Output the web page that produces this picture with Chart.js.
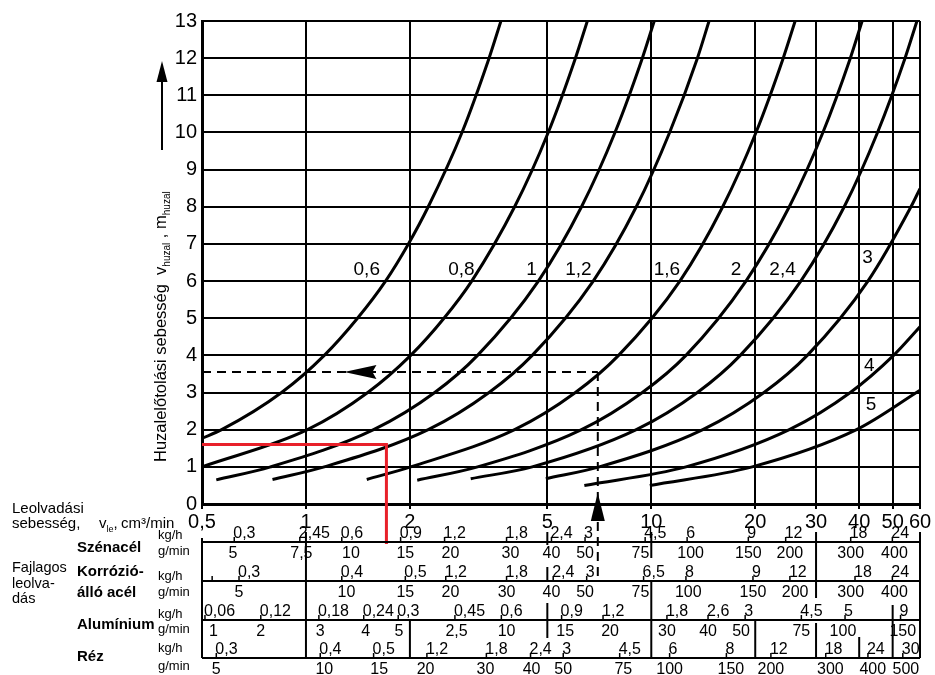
<!DOCTYPE html>
<html>
<head>
<meta charset="utf-8">
<script src="https://cdn.jsdelivr.net/npm/chart.js@4/dist/chart.umd.min.js"></script>
<style>
  html, body { margin: 0; padding: 0; background: #fff; }
  canvas { display: block; }
</style>
</head>
<body>
<canvas id="chart" width="935" height="675"></canvas>
<script>
// melt rate (cm3/min) axis ticks and wire speed (m/min) ticks
const xTicks = [0.5, 1, 2, 5, 10, 20, 30, 40, 50, 60];
const yMax = 13;

// wire diameters (mm) and their curves as [melt rate cm3/min, wire speed m/min]
const diameters = ['0,6', '0,8', '1', '1,2', '1,6', '2', '2,4', '3', '4', '5'];
const w06 = [[0.5, 1.77], [0.57, 2], [0.85, 3], [1.13, 4], [1.41, 5], [1.7, 6], [1.98, 7], [2.26, 8], [2.83, 10], [3.39, 12], [3.67, 13]];
const w08 = [[0.5, 1.0], [1.01, 2], [1.51, 3], [2.01, 4], [2.51, 5], [3.02, 6], [4.02, 8], [5.03, 10], [6.03, 12], [6.53, 13]];
const w10 = [[0.55, 0.65], [0.79, 1], [1.57, 2], [2.36, 3], [3.14, 4], [4.71, 6], [6.28, 8], [7.85, 10], [9.42, 12], [10.2, 13]];
const w12 = [[0.8, 0.66], [1.13, 1], [2.26, 2], [3.39, 3], [4.52, 4], [6.79, 6], [9.05, 8], [11.3, 10], [13.6, 12], [14.7, 13]];
const w16 = [[1.5, 0.66], [2.01, 1], [4.02, 2], [6.03, 3], [8.04, 4], [12.1, 6], [16.1, 8], [20.1, 10], [24.1, 12], [26.1, 13]];
const w20 = [[2.1, 0.64], [3.14, 1], [6.28, 2], [9.42, 3], [12.6, 4], [18.8, 6], [25.1, 8], [31.4, 10], [37.7, 12], [40.8, 13]];
const w24 = [[3.0, 0.68], [4.52, 1], [9.05, 2], [13.6, 3], [18.1, 4], [27.1, 6], [36.2, 8], [45.2, 10], [54.3, 12], [58.8, 13]];
const w30 = [[4.95, 0.68], [7.07, 1], [14.1, 2], [21.2, 3], [28.3, 4], [42.4, 6], [56.5, 8], [60, 8.49]];
const w40 = [[6.4, 0.5], [12.6, 1], [25.1, 2], [37.7, 3], [50.3, 4], [60, 4.77]];
const w50 = [[9.9, 0.5], [19.6, 1], [39.3, 2], [60, 3.06]];
const curves = [w06, w08, w10, w12, w16, w20, w24, w30, w40, w50];

// where each diameter is written on the chart
const labelAt = [[1.5, 6.3], [2.82, 6.3], [4.5, 6.3], [6.15, 6.3], [11.1, 6.3], [17.6, 6.3], [24.0, 6.3], [42.3, 6.62], [42.8, 3.71], [43.3, 2.66]];

// worked example: wire speed read back from a melt rate
const exampleRate = 7.0;
const exampleSpeed = 3.55;
// red example line
const redSpeed = 1.6;
const redRate = 1.71;

// specific melting rate scales, label text and position in cm3/min
const szenKgh = ['0,3', '2,45', '0,6', '0,9', '1,2', '1,8', '2,4', '3', '4,5', '6', '9', '12', '18', '24'];
const szenKghAt = [0.62, 0.96, 1.27, 1.88, 2.52, 3.81, 5.14, 6.43, 9.6, 12.7, 19.1, 24.5, 37.8, 49.9];
const szenGmin = ['5', '7,5', '10', '15', '20', '30', '40', '50', '75', '100', '150', '200', '300', '400'];
const szenGminAt = [0.615, 0.97, 1.35, 1.94, 2.62, 3.91, 5.14, 6.43, 9.3, 13.0, 19.1, 25.2, 37.8, 50.6];
const korrKgh = ['', '0,3', '0,4', '0,5', '1,2', '1,8', '2,4', '3', '6,5', '8', '9', '12', '18', '24'];
const korrKghAt = [0.535, 0.64, 1.27, 1.94, 2.54, 3.81, 5.2, 6.5, 9.5, 12.6, 19.7, 25.2, 38.9, 49.9];
const korrGmin = ['5', '10', '15', '20', '30', '40', '50', '75', '100', '150', '200', '300', '400'];
const korrGminAt = [0.64, 1.31, 1.94, 2.62, 3.81, 5.14, 6.43, 9.3, 12.8, 19.7, 26.1, 37.8, 50.6];
const aluKgh = ['0,06', '0,12', '0,18', '0,24', '0,3', '0,45', '0,6', '0,9', '1,2', '1,8', '2,6', '3', '4,5', '5', '9'];
const aluKghAt = [0.51, 0.74, 1.09, 1.47, 1.85, 2.70, 3.68, 5.5, 7.25, 11.1, 14.6, 18.7, 27.2, 36.4, 52.7];
const aluGmin = ['1', '2', '3', '4', '5', '2,5', '10', '15', '20', '30', '40', '50', '75', '100', '150'];
const aluGminAt = [0.54, 0.74, 1.1, 1.49, 1.86, 2.73, 3.81, 5.63, 7.6, 11.1, 14.6, 18.2, 27.2, 35.9, 53.5];
const rezKgh = ['0,3', '0,4', '0,5', '1,2', '1,8', '2,4', '3', '4,5', '6', '8', '12', '18', '24', '30'];
const rezKghAt = [0.55, 1.1, 1.57, 2.24, 3.33, 4.47, 5.56, 8.1, 11.3, 16.5, 22.2, 32, 42.4, 53.5];
const rezGmin = ['5', '10', '15', '20', '30', '40', '50', '75', '100', '150', '200', '300', '400', '500'];
const rezGminAt = [0.55, 1.13, 1.63, 2.22, 3.31, 4.5, 5.56, 8.3, 11.3, 17.0, 22.2, 33, 43.8, 54.6];

const FONT = '"Liberation Sans", Arial, Helvetica, sans-serif';
Chart.defaults.font.family = FONT;
Chart.defaults.color = '#000';

// table layout: y of the line under each kg/h row
const materials = [
  { name: ['Szénacél'], nameY: [548], line: 542, unitY: [535, 551], kgh: szenKgh, kghAt: szenKghAt, gmin: szenGmin, gminAt: szenGminAt },
  { name: ['Korrózió-', 'álló acél'], nameY: [572, 593], line: 581, unitY: [576, 592], kgh: korrKgh, kghAt: korrKghAt, gmin: korrGmin, gminAt: korrGminAt },
  { name: ['Alumínium'], nameY: [625], line: 620, unitY: [614, 629], kgh: aluKgh, kghAt: aluKghAt, gmin: aluGmin, gminAt: aluGminAt },
  { name: ['Réz'], nameY: [657], line: 658, unitY: [648, 666], kgh: rezKgh, kghAt: rezKghAt, gmin: rezGmin, gminAt: rezGminAt }
];
// vertical rules inside the table: [cm3/min, top px, bottom px]
const tableRules = [[0.5, 538, 658], [1, 532, 658], [2, 620, 658], [5, 532, 545], [5, 567, 582], [5, 603, 638],
  [10, 532, 558], [10, 582, 658], [20, 620, 658], [30, 532, 598], [30, 623, 658], [40, 637, 658], [50, 605, 658], [60, 532, 658]];

function font(size, bold) {
  return (bold ? 'bold ' : '') + size + 'px ' + FONT;
}

// text pieces with subscripts, drawn left to right from (x, y) on the baseline
function richText(ctx, parts, x, y, size) {
  ctx.textAlign = 'left';
  ctx.textBaseline = 'alphabetic';
  for (const [t, sub] of parts) {
    ctx.font = font(sub ? Math.round(size * 0.62) : size);
    ctx.fillText(t, x, sub ? y + 4 : y);
    x += ctx.measureText(t).width;
  }
}

const drawings = {
  id: 'drawings',
  afterDatasetsDraw(chart) {
    const { ctx, scales: { x, y } } = chart;
    ctx.save();

    // diameter labels
    ctx.font = font(19);
    ctx.textAlign = 'center';
    ctx.textBaseline = 'middle';
    diameters.forEach((d, i) => {
      ctx.fillText(d, x.getPixelForValue(labelAt[i][0]), y.getPixelForValue(labelAt[i][1]));
    });

    // dashed example lines
    const ex = x.getPixelForValue(exampleRate);
    const ey = y.getPixelForValue(exampleSpeed);
    ctx.strokeStyle = '#000';
    ctx.lineWidth = 2;
    ctx.setLineDash([9, 6]);
    ctx.beginPath();
    ctx.moveTo(x.getPixelForValue(0.5), ey);
    ctx.lineTo(ex, ey);
    ctx.moveTo(ex, ey);
    ctx.lineTo(ex, 580);
    ctx.stroke();
    ctx.setLineDash([]);

    // arrow heads
    ctx.fillStyle = '#000';
    const ax = x.getPixelForValue(1.29), bx = x.getPixelForValue(1.6);
    ctx.beginPath();
    ctx.moveTo(ax, ey);
    ctx.lineTo(bx, ey - 7);
    ctx.lineTo(bx - 4, ey);
    ctx.lineTo(bx, ey + 7);
    ctx.closePath();
    ctx.fill();
    ctx.beginPath();
    ctx.moveTo(ex, y.getPixelForValue(0.3));
    ctx.lineTo(ex - 7, 521);
    ctx.lineTo(ex + 7, 521);
    ctx.closePath();
    ctx.fill();

    // red example
    const rx = x.getPixelForValue(redRate), ry = y.getPixelForValue(redSpeed);
    ctx.strokeStyle = '#e8202a';
    ctx.lineWidth = 3;
    ctx.beginPath();
    ctx.moveTo(x.getPixelForValue(0.5), ry);
    ctx.lineTo(rx, ry);
    ctx.lineTo(rx, 544);
    ctx.stroke();
    ctx.restore();
  },
  afterDraw(chart) {
    const { ctx, scales: { x } } = chart;
    ctx.save();
    ctx.fillStyle = '#000';
    ctx.strokeStyle = '#000';

    // y axis title with the arrow above it
    ctx.save();
    ctx.translate(166, 462);
    ctx.rotate(-Math.PI / 2);
    richText(ctx, [['Huzalelőtolási sebesség  v', false], ['huzal', true], [' , m', false], ['huzal', true]], 0, 0, 16.5);
    ctx.restore();
    ctx.lineWidth = 2;
    ctx.beginPath();
    ctx.moveTo(162, 150);
    ctx.lineTo(162, 76);
    ctx.stroke();
    ctx.beginPath();
    ctx.moveTo(162, 61);
    ctx.lineTo(156.5, 82);
    ctx.lineTo(167.5, 82);
    ctx.closePath();
    ctx.fill();

    // x axis caption
    ctx.font = font(15);
    ctx.textAlign = 'left';
    ctx.textBaseline = 'alphabetic';
    ctx.fillText('Leolvadási', 12, 513);
    ctx.fillText('sebesség,', 12, 528);
    richText(ctx, [['v', false], ['le', true], [',', false]], 99, 528, 15);
    ctx.font = font(15);
    ctx.fillText('cm³/min', 121, 528);

    // table captions
    ctx.font = font(14.5);
    ctx.fillText('Fajlagos', 12, 572);
    ctx.fillText('leolva-', 12, 588);
    ctx.fillText('dás', 12, 603);

    const left = x.getPixelForValue(0.5), right = x.getPixelForValue(60);
    ctx.lineWidth = 2;
    for (const m of materials) {
      ctx.font = font(15, true);
      ctx.textAlign = 'left';
      ctx.textBaseline = 'middle';
      m.name.forEach((n, i) => ctx.fillText(n, 77, m.nameY[i]));
      ctx.font = font(13);
      ctx.fillText('kg/h', 158, m.unitY[0]);
      ctx.fillText('g/min', 158, m.unitY[1]);

      ctx.beginPath();
      ctx.moveTo(left, m.line);
      ctx.lineTo(right, m.line);
      ctx.stroke();

      // kg/h: tick on the rule, number written from the tick
      ctx.font = font(16);
      ctx.textBaseline = 'alphabetic';
      ctx.lineWidth = 1.5;
      m.kgh.forEach((t, i) => {
        const px = x.getPixelForValue(m.kghAt[i]);
        ctx.beginPath();
        ctx.moveTo(px, m.line - 5);
        ctx.lineTo(px, m.line);
        ctx.stroke();
        ctx.fillText(t, px - 1, m.line - 4);
      });
      ctx.lineWidth = 2;

      // g/min: number centred on its value
      ctx.textAlign = 'center';
      ctx.textBaseline = 'middle';
      m.gmin.forEach((t, i) => {
        ctx.fillText(t, x.getPixelForValue(m.gminAt[i]), m.line + 12);
      });
    }

    for (const [v, top, bottom] of tableRules) {
      const px = x.getPixelForValue(v);
      ctx.beginPath();
      ctx.moveTo(px, top);
      ctx.lineTo(px, bottom);
      ctx.stroke();
    }
    ctx.restore();
  }
};

new Chart(document.getElementById('chart'), {
  type: 'scatter',
  data: {
    datasets: curves.map((pts, i) => ({
      label: diameters[i],
      data: pts.map(p => ({ x: p[0], y: p[1] })),
      showLine: true,
      borderColor: '#000',
      borderWidth: 3,
      pointRadius: 0,
      cubicInterpolationMode: 'monotone'
    }))
  },
  options: {
    responsive: false,
    animation: false,
    devicePixelRatio: 1,
    layout: { padding: { left: 0, right: 15, top: 21, bottom: 139 } },
    plugins: { legend: { display: false }, tooltip: { enabled: false } },
    scales: {
      x: {
        type: 'logarithmic',
        min: 0.5,
        max: 60,
        afterBuildTicks: s => { s.ticks = xTicks.map(v => ({ value: v })); },
        afterFit: s => { s.height = 32; },
        ticks: {
          autoSkip: false,
          maxRotation: 0,
          padding: 1,
          font: { size: 20 },
          callback: v => String(v).replace('.', ',')
        },
        grid: { color: '#000', lineWidth: 2, tickLength: 5 },
        border: { color: '#000', width: 3 }
      },
      y: {
        min: 0,
        max: yMax,
        afterFit: s => { s.width = 202; },
        ticks: { stepSize: 1, padding: 5, font: { size: 20 } },
        grid: { color: '#000', lineWidth: 2, drawTicks: false },
        border: { color: '#000', width: 3 }
      }
    }
  },
  plugins: [drawings]
});
</script>
</body>
</html>
